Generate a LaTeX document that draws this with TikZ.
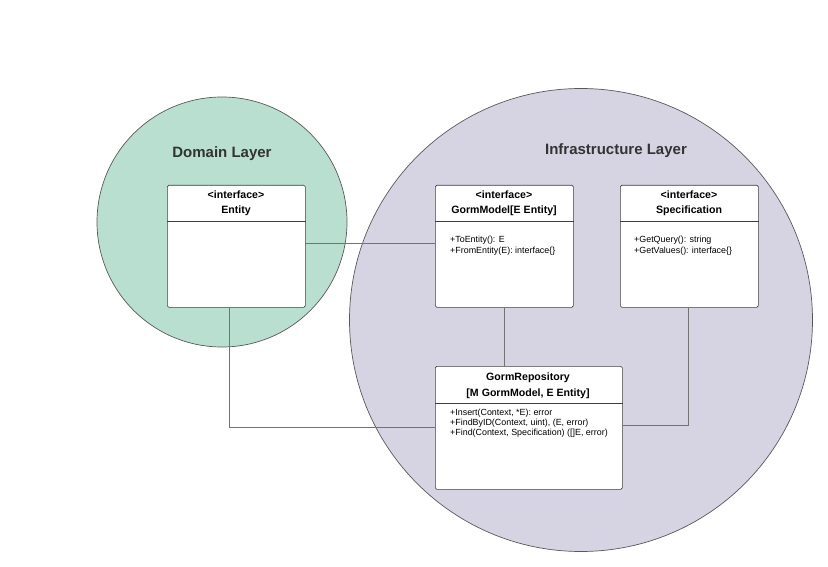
\documentclass[tikz,border=0pt]{standalone}
\usepackage{fontspec}
\setmainfont{Liberation Sans}
\definecolor{domaingreen}{HTML}{B8DFCF}
\definecolor{infrapurple}{HTML}{D6D4E3}
\definecolor{layertext}{HTML}{333333}
\begin{document}
\begin{tikzpicture}[x=1pt,y=-1pt,
  layer/.style={circle, draw=black!65, line width=0.7pt, inner sep=0pt},
  layerlabel/.style={font=\bfseries\fontsize{15}{17}\selectfont, text=layertext},
  cls/.style={draw=black!75, fill=white, rounded corners=1.5pt, line width=0.7pt, anchor=north west, inner sep=0pt},
  clsline/.style={draw=black!75, line width=0.7pt},
  clshead/.style={font=\bfseries\fontsize{10.6}{15.5}\selectfont, align=center, inner sep=0pt},
  clsbody/.style={font=\fontsize{8.9}{10.4}\selectfont, align=left, anchor=north west, inner sep=0pt},
  conn/.style={draw=black!55, line width=0.7pt}]
\useasboundingbox (0,0) rectangle (828,567);
% layers
\node[layer, fill=domaingreen, minimum size=250pt] (dom) at (222,222) {};
\node[layer, fill=infrapurple, minimum size=463pt] (inf) at (581,320) {};
\node[layerlabel] (domlbl) at (222,153.5) {Domain Layer};
\node[layerlabel] (inflbl) at (616,150.5) {Infrastructure Layer};
% class boxes
\node[cls, minimum width=138pt, minimum height=122pt] (ent) at (167,185) {};
\node[cls, minimum width=138pt, minimum height=122pt] (gm) at (435,185) {};
\node[cls, minimum width=138pt, minimum height=122pt] (spec) at (620,185) {};
\node[cls, minimum width=187pt, minimum height=123pt] (repo) at (435,366) {};
% connectors
\draw[conn] (ent.east |- 0,243) -- (gm.west |- 0,243);
\draw[conn] (gm.south -| 504,0) -- (repo.north -| 504,0);
\draw[conn] (ent.south -| 229,0) |- (repo.west |- 0,427);
\draw[conn] (spec.south -| 688,0) |- (repo.east |- 0,425);
% dividers
\draw[clsline] (ent.north west |- 0,221) -- (ent.north east |- 0,221);
\draw[clsline] (gm.north west |- 0,221) -- (gm.north east |- 0,221);
\draw[clsline] (spec.north west |- 0,221) -- (spec.north east |- 0,221);
\draw[clsline] (repo.north west |- 0,403) -- (repo.north east |- 0,403);
% headers
\node[clshead] (enth) at (236,203.5) {<interface>\\Entity};
\node[clshead] (gmh) at (504,203.5) {<interface>\\GormModel[E Entity]};
\node[clshead] (spech) at (689,203.5) {<interface>\\Specification};
\node[clshead] (repoh) at (528,386) {GormRepository\\{}[M GormModel, E Entity]};
% bodies
\node[clsbody] (gmb) at (450,236) {+ToEntity(): E\\+FromEntity(E): interface\{\}};
\node[clsbody] (specb) at (634,236) {+GetQuery(): string\\+GetValues(): interface\{\}};
\node[clsbody] (repob) at (450,408.5) {+Insert(Context, *E): error\\+FindByID(Context, uint), (E, error)\\+Find(Context, Specification) ([]E, error)};
\end{tikzpicture}
\end{document}
